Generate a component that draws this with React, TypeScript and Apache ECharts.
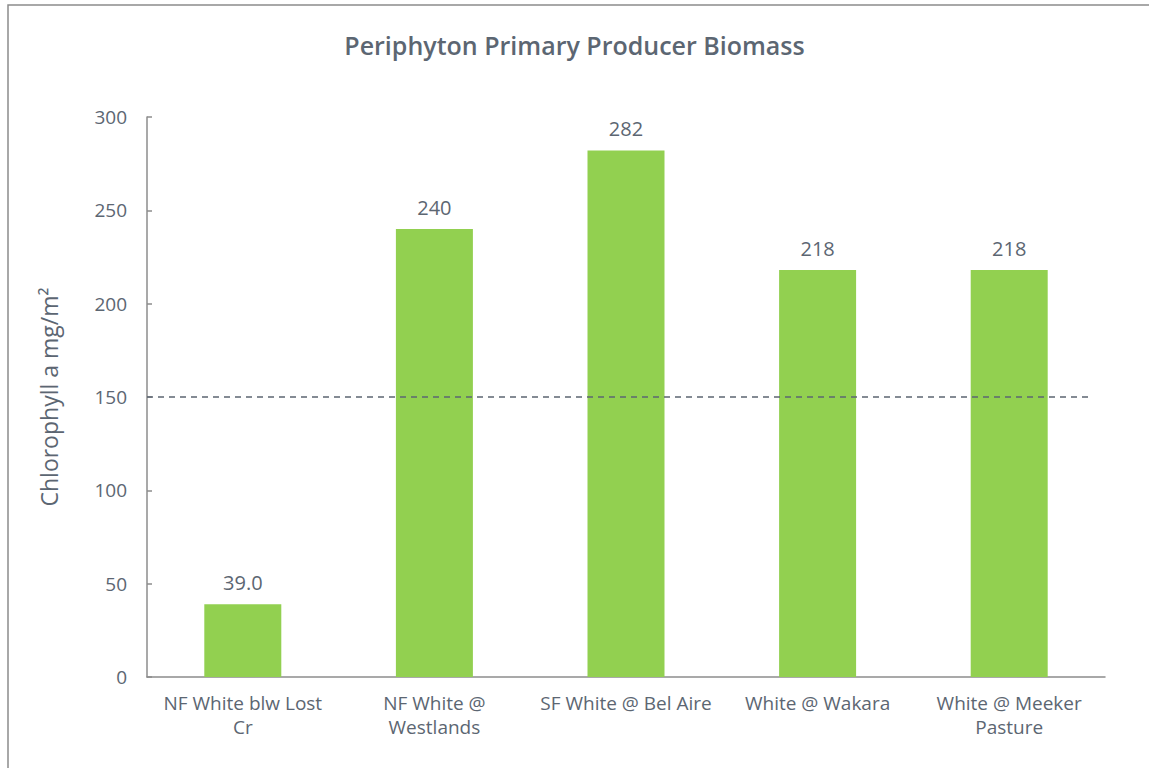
import React, { useEffect, useRef } from "react";
import * as echarts from "echarts";

const categories = [
  "NF White blw Lost\nCr",
  "NF White @\nWestlands",
  "SF White @ Bel Aire",
  "White @ Wakara",
  "White @ Meeker\nPasture",
];
const biomass = [39.0, 240, 282, 218, 218];
const labelText = ["39.0", "240", "282", "218", "218"];
const threshold = 150;
const thresholdSpan = [0, 0.984];

const TEXT = "#5c6672";
const FONT = "'Open Sans', sans-serif";

export default function App() {
  const ref = useRef<HTMLDivElement>(null);
  useEffect(() => {
    if (!ref.current) return;
    const chart = echarts.init(ref.current, undefined, { renderer: "svg" });
    chart.setOption({
      animation: false,
      backgroundColor: "#ffffff",
      textStyle: { fontFamily: FONT, color: TEXT },
      title: {
        text: "Periphyton Primary Producer Biomass",
        left: "center",
        top: 27,
        textStyle: { fontFamily: FONT, fontSize: 25, fontWeight: 600, color: TEXT },
      },
      graphic: [
        {
          type: "rect",
          shape: { x: 8, y: 5, width: 1200, height: 800 },
          style: { fill: "none", stroke: "#8c8c8c", lineWidth: 1.5 },
          silent: true,
        },
      ],
      grid: { left: 147, right: 44, top: 117, bottom: 91, containLabel: false },
      xAxis: [
        {
          type: "category",
          data: categories,
          axisLine: { lineStyle: { color: "#8c8c8c", width: 1.5 } },
          axisTick: { show: false },
          axisLabel: {
            color: TEXT,
            fontSize: 19,
            fontFamily: FONT,
            lineHeight: 24,
            margin: 14,
            interval: 0,
          },
        },
        {
          type: "value",
          min: 0,
          max: 1,
          show: false,
        },
      ],
      yAxis: {
        type: "value",
        min: 0,
        max: 300,
        interval: 50,
        name: "Chlorophyll a mg/m²",
        nameLocation: "middle",
        nameGap: 87,
        nameTextStyle: { fontSize: 23, fontFamily: FONT, color: TEXT },
        axisLine: { show: true, lineStyle: { color: "#8c8c8c", width: 1.5 } },
        axisTick: { show: true, inside: true, length: 5, lineStyle: { color: "#8c8c8c", width: 1.5 } },
        axisLabel: { color: TEXT, fontSize: 19, fontFamily: FONT, margin: 20 },
        splitLine: { show: false },
      },
      series: [
        {
          type: "bar",
          data: biomass,
          barWidth: 77,
          itemStyle: { color: "#92d050" },
          label: {
            show: true,
            position: "top",
            distance: 12,
            fontSize: 20,
            fontFamily: FONT,
            color: TEXT,
            formatter: (p: any) => labelText[p.dataIndex],
          },
        },
        {
          type: "line",
          xAxisIndex: 1,
          data: thresholdSpan.map((x) => [x, threshold]),
          symbol: "none",
          lineStyle: { color: "#5c6672", width: 1.5, type: [6, 5] },
          silent: true,
        },
      ],
    });
    return () => chart.dispose();
  }, []);
  return (
    <div
      ref={ref}
      style={{ position: "fixed", left: 0, top: 0, width: 1149, height: 768 }}
    />
  );
}
